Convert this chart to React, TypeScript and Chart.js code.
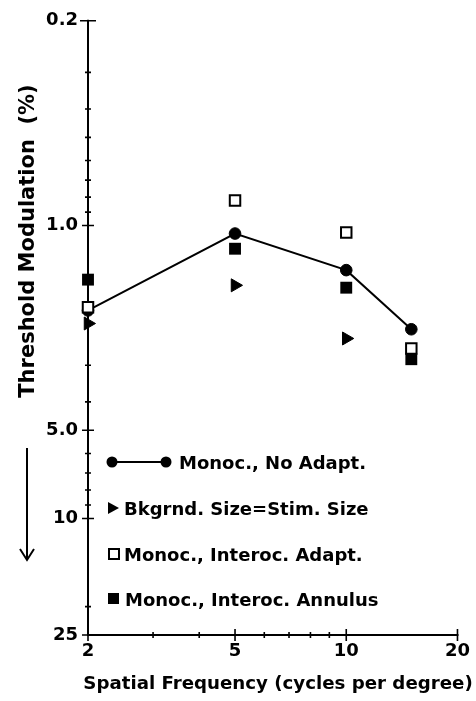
import { useEffect, useRef } from 'react';
import { Chart, registerables } from 'chart.js';

Chart.register(...registerables);

// Spatial frequencies (cycles per degree)
const FREQ = [2, 5, 10, 15];
const BKGRND_FREQ = [2, 5, 10];

// Threshold modulation (%) for each condition
const NO_ADAPT = [1.95, 1.065, 1.42, 2.26];
const BKGRND_SIZE = [2.16, 1.6, 2.43];
const INTEROC_ADAPT = [1.9, 0.822, 1.056, 2.63];
const INTEROC_ANNULUS = [1.53, 1.2, 1.63, 2.86];

// Axis ranges and tick marks
const X_MIN = 2;
const X_MAX = 20;
const Y_MIN = 0.2;
const Y_MAX = 25;
const X_TICKS = [2, 3, 4, 5, 6, 7, 8, 9, 10, 20];
const X_LABELS: Record<string, string> = { '2': '2', '5': '5', '10': '10', '20': '20' };
const Y_TICKS = [0.2, 0.3, 0.4, 0.5, 0.6, 0.7, 0.8, 0.9, 1, 2, 3, 4, 5, 6, 7, 8, 9, 10, 20, 25];
const Y_LABELS: Record<string, string> = { '0.2': '0.2', '1': '1.0', '5': '5.0', '10': '10', '25': '25' };

const LEGEND_LABELS = [
  'Monoc., No Adapt.',
  'Bkgrnd. Size=Stim. Size',
  'Monoc., Interoc. Adapt.',
  'Monoc., Interoc. Annulus',
];
const Y_TITLE = 'Threshold Modulation  (%)';
const X_TITLE = 'Spatial Frequency (cycles per degree)';

const FONT = '"DejaVu Sans"';
const INK = '#000';

const frame = {
  id: 'frame',
  beforeDatasetsDraw(chart: any) {
    const { ctx, scales } = chart;
    const x = scales.x;
    const y = scales.y;
    const left = x.getPixelForValue(X_MIN);
    const right = x.getPixelForValue(X_MAX);
    const top = y.getPixelForValue(Y_MIN);
    const bottom = y.getPixelForValue(Y_MAX);
    ctx.save();
    ctx.strokeStyle = INK;
    ctx.lineWidth = 2;
    ctx.lineCap = 'square';
    ctx.beginPath();
    ctx.moveTo(left, top);
    ctx.lineTo(left, bottom);
    ctx.lineTo(right, bottom);
    ctx.stroke();

    ctx.lineWidth = 1.6;
    ctx.lineCap = 'butt';
    ctx.beginPath();
    for (const v of Y_TICKS) {
      const py = y.getPixelForValue(v);
      const h = v === Y_MIN ? 8 : Y_LABELS[String(v)] ? 6 : 3;
      ctx.moveTo(left - h, py);
      ctx.lineTo(left + h, py);
    }
    for (const v of X_TICKS) {
      const px = x.getPixelForValue(v);
      const h = X_LABELS[String(v)] ? 6 : 3;
      ctx.moveTo(px, bottom - h);
      ctx.lineTo(px, bottom + h);
    }
    ctx.stroke();
    ctx.restore();
  },
  afterDraw(chart: any) {
    const { ctx } = chart;
    ctx.save();
    ctx.fillStyle = INK;
    ctx.strokeStyle = INK;

    // horizontal axis title
    ctx.font = `bold 18.2px ${FONT}`;
    ctx.textAlign = 'center';
    ctx.textBaseline = 'alphabetic';
    ctx.fillText(X_TITLE, 278, 689);

    // vertical axis title, reading upward
    ctx.font = `bold 21px ${FONT}`;
    ctx.save();
    ctx.translate(34, 241);
    ctx.rotate(-Math.PI / 2);
    ctx.textAlign = 'center';
    ctx.textBaseline = 'alphabetic';
    ctx.fillText(Y_TITLE, 0, 0);
    ctx.restore();

    // downward arrow beside the axis
    ctx.lineWidth = 2;
    ctx.beginPath();
    ctx.moveTo(27, 448);
    ctx.lineTo(27, 560);
    ctx.moveTo(20, 549);
    ctx.lineTo(27, 560);
    ctx.lineTo(34, 549);
    ctx.stroke();

    // legend
    const rows = [462, 508, 554, 599];
    ctx.font = `bold 18px ${FONT}`;
    ctx.textAlign = 'left';
    ctx.textBaseline = 'alphabetic';
    const cap = 6.5;

    // row 1: dot - line - dot
    let cy = rows[0];
    ctx.beginPath();
    ctx.arc(112, cy, 5.5, 0, Math.PI * 2);
    ctx.fill();
    ctx.beginPath();
    ctx.arc(166, cy, 5.5, 0, Math.PI * 2);
    ctx.fill();
    ctx.lineWidth = 2;
    ctx.beginPath();
    ctx.moveTo(117, cy);
    ctx.lineTo(161, cy);
    ctx.stroke();
    ctx.fillText(LEGEND_LABELS[0], 179, cy + cap);

    // row 2: right-pointing triangle
    cy = rows[1];
    ctx.beginPath();
    ctx.moveTo(108, cy - 6);
    ctx.lineTo(119, cy);
    ctx.lineTo(108, cy + 6);
    ctx.closePath();
    ctx.fill();
    ctx.fillText(LEGEND_LABELS[1], 124, cy + cap);

    // row 3: open square
    cy = rows[2];
    ctx.lineWidth = 2;
    ctx.strokeRect(109, cy - 5, 10, 10);
    ctx.fillText(LEGEND_LABELS[2], 124, cy + cap);

    // row 4: filled square
    cy = rows[3];
    ctx.fillRect(108, cy - 6, 11, 11);
    ctx.fillText(LEGEND_LABELS[3], 125, cy + cap);

    ctx.restore();
  },
};

const toPoints = (xs: number[], ys: number[]) => xs.map((v, i) => ({ x: v, y: ys[i] }));

export default function App() {
  const ref = useRef<HTMLCanvasElement>(null);

  useEffect(() => {
    const tickFont = { family: FONT, weight: 'bold' as const, size: 18 };
    const chart = new Chart(ref.current as HTMLCanvasElement, {
      type: 'scatter',
      data: {
        datasets: [
          {
            label: LEGEND_LABELS[0],
            data: toPoints(FREQ, NO_ADAPT),
            showLine: true,
            borderColor: INK,
            borderWidth: 2,
            backgroundColor: INK,
            pointStyle: 'circle',
            pointRadius: 5.8,
            pointBorderWidth: 1,
            pointBorderColor: INK,
            pointBackgroundColor: INK,
            clip: false,
            order: 3,
          },
          {
            label: LEGEND_LABELS[1],
            data: toPoints(BKGRND_FREQ, BKGRND_SIZE),
            pointStyle: 'triangle',
            rotation: 90,
            pointRadius: 7.5,
            borderWidth: 1,
            borderColor: INK,
            backgroundColor: INK,
            clip: false,
            order: 2,
          },
          {
            label: LEGEND_LABELS[2],
            data: toPoints(FREQ, INTEROC_ADAPT),
            pointStyle: 'rect',
            pointRadius: 7.4,
            borderWidth: 2,
            borderColor: INK,
            backgroundColor: '#fff',
            clip: false,
            order: 1,
          },
          {
            label: LEGEND_LABELS[3],
            data: toPoints(FREQ, INTEROC_ANNULUS),
            pointStyle: 'rect',
            pointRadius: 8.4,
            borderWidth: 0,
            borderColor: INK,
            backgroundColor: INK,
            clip: false,
            order: 0,
          },
        ],
      },
      options: {
        responsive: false,
        animation: false,
        devicePixelRatio: 1,
        layout: { padding: { top: 20, right: 18, bottom: 0, left: 0 } },
        plugins: {
          legend: { display: false },
          tooltip: { enabled: false },
        },
        scales: {
          x: {
            type: 'logarithmic',
            min: X_MIN,
            max: X_MAX,
            grid: { display: false, drawTicks: false },
            border: { display: false },
            afterBuildTicks: (scale: any) => {
              scale.ticks = Object.keys(X_LABELS).map((k) => ({ value: Number(k) }));
            },
            afterFit: (scale: any) => {
              scale.height = 66;
            },
            ticks: {
              autoSkip: false,
              maxRotation: 0,
              padding: 6,
              color: INK,
              font: tickFont,
              callback: (v: any) => X_LABELS[String(v)] ?? '',
            },
          },
          y: {
            type: 'logarithmic',
            reverse: true,
            min: Y_MIN,
            max: Y_MAX,
            grid: { display: false, drawTicks: false },
            border: { display: false },
            afterBuildTicks: (scale: any) => {
              scale.ticks = Object.keys(Y_LABELS).map((k) => ({ value: Number(k) }));
            },
            afterFit: (scale: any) => {
              scale.width = 88;
            },
            ticks: {
              autoSkip: false,
              padding: 10,
              color: INK,
              font: tickFont,
              callback: (v: any) => Y_LABELS[String(v)] ?? '',
            },
          },
        },
      },
      plugins: [frame],
    });
    return () => chart.destroy();
  }, []);

  return (
    <div style={{ position: 'absolute', left: 0, top: 0, width: 476, height: 701, background: '#fff' }}>
      <canvas ref={ref} width={476} height={701} style={{ display: 'block' }} />
    </div>
  );
}
